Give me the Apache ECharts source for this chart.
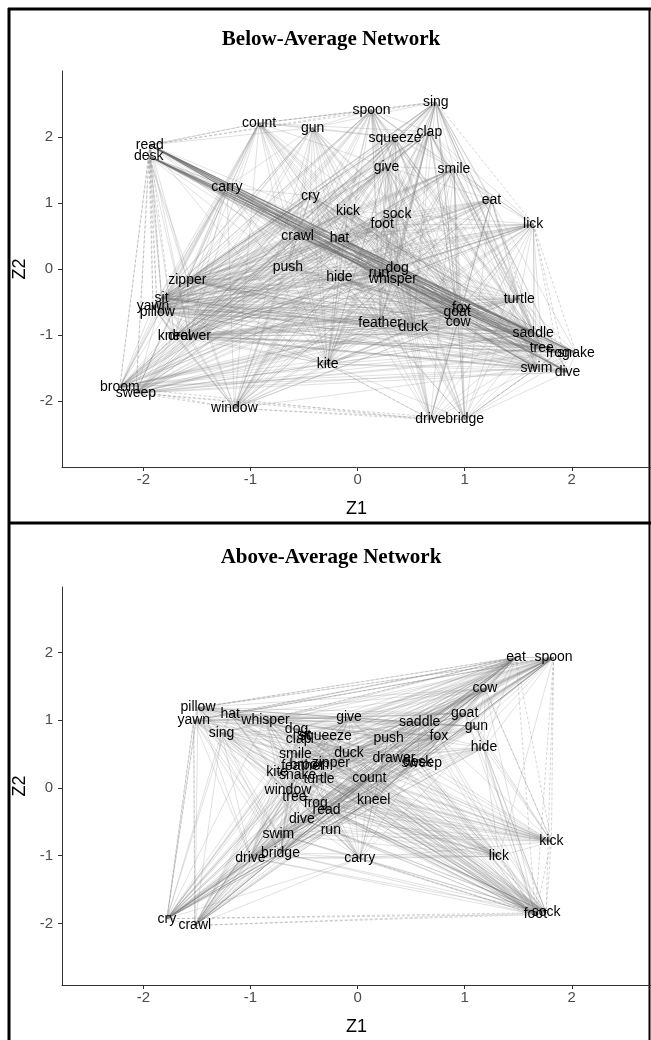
<!DOCTYPE html>
<html>
<head>
<meta charset="utf-8">
<script src="https://cdn.jsdelivr.net/npm/echarts@6/dist/echarts.min.js"></script>
<style>
  html, body { margin: 0; padding: 0; background: #fff; }
  #main { width: 651px; height: 1040px; }
</style>
</head>
<body>
<div id="main"></div>
<script>
// node words, same order for both panels
const words = ['sing', 'spoon', 'count', 'gun', 'squeeze', 'clap', 'read', 'desk', 'give', 'smile',
  'carry', 'cry', 'eat', 'kick', 'sock', 'foot', 'lick', 'crawl', 'hat', 'push',
  'dog', 'run', 'hide', 'whisper', 'zipper', 'sit', 'turtle', 'yawn', 'pillow', 'fox',
  'goat', 'feather', 'cow', 'duck', 'kneel', 'drawer', 'saddle', 'tree', 'frog', 'snake',
  'kite', 'swim', 'dive', 'broom', 'sweep', 'window', 'drive', 'bridge'];

// Below-Average Network
const belowZ1 = [0.73, 0.13, -0.92, -0.42, 0.35, 0.67, -1.94, -1.95, 0.27, 0.90,
  -1.22, -0.44, 1.25, -0.09, 0.37, 0.23, 1.64, -0.56, -0.17, -0.65,
  0.37, 0.20, -0.17, 0.33, -1.59, -1.83, 1.51, -1.91, -1.87, 0.97,
  0.93, 0.21, 0.94, 0.52, -1.71, -1.57, 1.64, 1.72, 1.87, 2.04,
  -0.28, 1.67, 1.96, -2.22, -2.07, -1.15, 0.68, 1.00];
const belowZ2 = [2.53, 2.41, 2.21, 2.14, 1.99, 2.08, 1.88, 1.71, 1.55, 1.52,
  1.24, 1.11, 1.05, 0.88, 0.83, 0.68, 0.68, 0.50, 0.47, 0.03,
  0.02, -0.06, -0.13, -0.16, -0.17, -0.44, -0.45, -0.57, -0.66, -0.59,
  -0.65, -0.82, -0.80, -0.88, -1.02, -1.02, -0.97, -1.20, -1.27, -1.27,
  -1.44, -1.50, -1.56, -1.79, -1.88, -2.11, -2.28, -2.28];

// Above-Average Network
const aboveZ1 = [-1.27, 1.83, 0.11, 1.11, -0.30, -0.55, -0.29, 0.56, -0.08, -0.58,
  0.02, -1.78, 1.48, 1.81, 1.76, 1.66, 1.32, -1.52, -1.19, 0.29,
  -0.57, -0.25, 1.18, -0.86, -0.25, -0.50, -0.36, -1.53, -1.49, 0.76,
  1.00, -0.51, 1.19, -0.08, 0.15, 0.34, 0.58, -0.59, -0.39, -0.56,
  -0.75, -0.74, -0.52, -0.45, 0.60, -0.65, -1.00, -0.72];
const aboveZ2 = [0.81, 1.93, 0.15, 0.91, 0.76, 0.72, -0.32, 0.38, 1.04, 0.50,
  -1.04, -1.93, 1.93, -0.79, -1.84, -1.87, -1.01, -2.03, 1.09, 0.74,
  0.87, -0.62, 0.60, 1.01, 0.37, 0.78, 0.13, 1.00, 1.19, 0.76,
  1.10, 0.32, 1.47, 0.51, -0.18, 0.44, 0.97, -0.13, -0.22, 0.19,
  0.24, -0.68, -0.46, 0.34, 0.37, -0.03, -1.03, -0.96];

const tickValues = [-2, -1, 0, 1, 2];

// edges, "node: neighbours"
const belowLinks = [
  'read: desk count gun carry crawl hat dog whisper run fox goat cow saddle tree frog snake dive swim turtle zipper sit drawer kite duck feather',
  'desk: carry crawl hat hide dog whisper fox goat cow saddle tree frog snake swim dive turtle zipper sit kneel drawer window push',
  'count: carry zipper sit crawl push hide dog kite spoon clap gun squeeze give hat cry feather yawn',
  'count: pillow kneel drawer duck cow goat fox saddle whisper run window broom sweep',
  'gun: cry hat push hide dog duck feather sing spoon squeeze kick crawl whisper kite carry',
  'gun: zipper sit yawn pillow kneel drawer cow goat fox saddle tree window',
  'spoon: sing squeeze clap give smile kick sock foot dog whisper run zipper sit crawl hat lick eat turtle push yawn',
  'spoon: pillow kneel drawer feather duck kite cow goat fox saddle tree swim broom sweep window',
  'sing: clap squeeze give smile eat turtle saddle dog whisper run foot sock push hat crawl zipper snake fox',
  'sing: yawn pillow sit kneel drawer feather duck kite cow goat tree swim dive frog broom sweep window',
  'squeeze: clap give smile foot sock kick hat crawl dog push zipper sit yawn pillow duck goat cow fox',
  'squeeze: kneel drawer feather kite saddle tree swim window broom',
  'clap: give smile eat lick foot sock dog run whisper crawl zipper sit kneel drawer feather duck turtle',
  'clap: yawn pillow kite cow goat fox saddle tree swim dive window broom sweep',
  'give: smile kick sock foot crawl hat push zipper sit pillow yawn kneel drawer dog whisper eat turtle',
  'give: feather duck kite cow goat fox saddle tree swim window broom sweep',
  'smile: eat lick sock foot kick crawl hat dog whisper feather duck zipper sit yawn push',
  'smile: pillow kneel drawer kite cow goat fox saddle tree swim window broom sweep',
  'carry: zipper sit kneel drawer crawl hat cry push kite window duck feather',
  'carry: yawn pillow dog whisper run hide fox goat cow saddle tree swim broom sweep',
  'cry: kick crawl hat push hide dog whisper feather duck cow goat saddle tree zipper',
  'cry: sit yawn pillow kneel drawer kite run window broom sweep',
  'eat: lick turtle sock foot dog whisper hide push crawl zipper sit feather duck fox',
  'eat: yawn pillow kneel drawer kite cow goat tree swim window broom sweep',
  'kick: sock foot hat crawl push dog whisper run hide fox goat cow saddle tree frog zipper yawn',
  'kick: sit pillow kneel drawer feather duck kite swim dive window broom sweep',
  'sock: foot lick dog run whisper hide push zipper sit pillow kneel drawer broom sweep',
  'sock: yawn feather duck kite cow goat fox saddle tree swim window',
  'foot: lick dog whisper run hide push zipper sit yawn feather duck',
  'foot: pillow kneel drawer kite cow goat fox saddle tree swim window broom sweep',
  'lick: turtle saddle tree swim dog whisper run push crawl zipper sit yawn hat hide feather duck cow goat fox kite',
  'lick: pillow kneel drawer window broom sweep',
  'crawl: hat push dog whisper run fox goat cow saddle tree frog snake swim dive zipper sit drawer kneel kite',
  'crawl: yawn pillow feather duck hide window broom sweep',
  'hat: push dog whisper run hide fox goat cow saddle tree frog snake dive swim zipper duck feather',
  'hat: sit yawn pillow kneel drawer kite window sweep',
  'push: dog hide run whisper zipper sit yawn pillow kneel drawer feather duck kite fox goat cow saddle swim tree window',
  'dog: run whisper hide fox goat cow saddle tree snake turtle zipper sit yawn duck feather',
  'dog: pillow kneel drawer kite swim window broom sweep frog dive',
  'run: whisper hide fox goat cow saddle tree frog dive zipper pillow duck feather kite',
  'run: sit yawn kneel drawer swim snake window broom sweep',
  'hide: whisper feather duck kite zipper sit yawn pillow kneel drawer fox goat cow saddle',
  'hide: tree swim dive frog snake window sweep',
  'whisper: fox goat cow saddle tree frog snake swim dive turtle duck feather zipper sit',
  'whisper: yawn pillow kneel drawer kite window broom sweep',
  'zipper: sit yawn pillow kneel drawer feather duck fox goat cow saddle tree kite turtle swim dive frog snake',
  'sit: yawn pillow kneel drawer feather duck goat cow fox saddle tree swim frog snake dive kite',
  'turtle: saddle tree frog snake swim dive fox goat cow duck feather',
  'turtle: yawn pillow sit kneel drawer kite window broom sweep',
  'yawn: pillow kneel drawer feather duck cow saddle goat fox tree swim kite',
  'pillow: kneel drawer feather duck cow goat saddle tree fox swim dive kite',
  'fox: goat cow duck feather saddle tree frog snake swim dive',
  'goat: cow duck feather saddle tree frog snake swim dive',
  'feather: duck cow kite saddle tree swim',
  'cow: duck saddle tree frog snake swim dive',
  'duck: kite saddle tree frog snake swim dive',
  'kneel: drawer feather duck cow goat saddle tree fox swim dive frog kite',
  'drawer: feather duck cow goat saddle tree swim kite fox dive frog snake',
  'kite: cow goat fox saddle tree swim dive',
  'saddle: tree frog snake swim dive',
  'tree: frog snake swim dive',
  'frog: snake swim dive',
  'snake: swim dive',
  'swim: dive',
  'broom: sweep zipper sit yawn pillow kneel drawer push hide feather duck cow goat fox saddle tree swim dive kite hat crawl',
  'sweep: zipper sit kneel drawer push feather duck cow goat saddle tree frog snake swim dive kite',
  'window: sit yawn pillow kneel drawer push hide kite feather duck cow swim zipper crawl',
  'drive: bridge hide dog whisper run feather duck cow goat fox kite turtle saddle tree swim smile eat lick sock foot kick',
  'bridge: hide dog whisper feather duck cow goat fox kite turtle saddle tree swim dive snake frog smile eat lick sock foot give'
];
const belowDashed = [
  'read: sit yawn pillow kneel broom sweep spoon sing',
  'desk: sweep yawn pillow broom',
  'count: spoon sing read',
  'lick: snake dive frog sing',
  'window: broom sweep drive bridge',
  'drive: sweep broom kite',
  'bridge: swim sweep',
  'smile: turtle',
  'eat: saddle',
  'kneel: broom'
];
const belowStrong = [
  'read: saddle tree frog snake dive swim fox cow',
  'desk: saddle tree frog snake dive goat',
  'hat: saddle tree',
  'crawl: saddle tree',
  'dog: saddle',
  'whisper: tree',
  'cry: snake'
];

const aboveLinks = [
  'pillow: yawn hat whisper sing give saddle goat cow eat spoon gun push fox dog clap squeeze smile cry crawl kite drive',
  'pillow: duck feather zipper kite snake window tree swim dive bridge',
  'yawn: hat whisper sing dog clap give saddle goat eat spoon cry crawl swim drive window duck fox',
  'yawn: smile feather kite snake tree frog dive bridge',
  'hat: whisper sing dog clap squeeze give push saddle fox goat gun cow eat spoon smile kite',
  'hat: duck feather zipper snake turtle window tree',
  'whisper: sing dog clap squeeze give push saddle fox goat gun cow hide eat spoon smile duck',
  'whisper: feather zipper kite snake turtle window tree frog',
  'sing: dog clap smile feather kite snake window tree drive bridge swim cry crawl squeeze duck zipper turtle',
  'give: squeeze push saddle fox goat gun cow eat spoon duck drawer desk smile zipper count',
  'give: kite snake turtle frog tree window',
  'eat: spoon cow goat gun saddle fox hide push drawer desk duck count kneel zipper turtle read frog run dive swim bridge drive tree window feather kite snake smile',
  'eat: dog clap squeeze give hat sing whisper',
  'spoon: cow goat gun hide fox saddle push desk drawer count kneel read run duck zipper turtle frog dive swim drive bridge carry lick tree window',
  'spoon: dog clap squeeze smile feather kite snake sing hat',
  'cow: goat gun saddle fox push hide desk drawer count kneel zipper duck turtle smile feather snake kite frog read',
  'goat: gun saddle fox push desk drawer duck count zipper turtle kneel feather frog read tree',
  'gun: saddle fox push hide desk drawer duck count kneel zipper turtle read frog',
  'hide: fox desk drawer count kneel run read kick lick sock foot duck zipper turtle frog',
  'saddle: fox push desk drawer duck squeeze clap dog zipper count kneel turtle frog read',
  'fox: push desk drawer duck count kneel zipper turtle feather smile snake frog read',
  'kick: lick carry count kneel run read desk drawer hide gun goat cow duck push fox zipper turtle frog dive tree swim',
  'kick: smile feather kite snake window dog clap squeeze',
  'lick: carry count kneel run read drawer desk duck push zipper turtle frog dive swim bridge drive tree window feather smile',
  'lick: dog clap squeeze kite snake',
  'foot: sock carry run read kneel count turtle frog tree window dive swim drive bridge duck zipper desk drawer feather snake kite smile push fox',
  'foot: dog clap squeeze give hat whisper sing gun cow goat saddle hide',
  'sock: carry run read kneel count frog tree dive swim drive bridge duck zipper desk drawer feather snake kite smile turtle',
  'sock: dog clap squeeze give whisper gun goat saddle hide push fox',
  'cry: crawl drive bridge swim dive run read frog tree window kite snake feather smile zipper turtle count kneel duck drawer desk push fox carry',
  'cry: dog clap squeeze give whisper hat sing gun cow goat saddle hide',
  'crawl: drive bridge swim dive run read frog tree window kite snake feather zipper turtle count kneel drawer desk carry',
  'crawl: dog clap squeeze smile duck give push fox saddle',
  'carry: run read frog kneel count drawer desk bridge drive swim dive duck zipper',
  'carry: window tree smile feather kite snake turtle push',
  'drive: bridge swim dive window tree frog snake kite feather smile read run desk drawer fox',
  'drive: dog clap squeeze duck zipper count kneel push',
  'bridge: swim dive window tree frog snake read run count kneel desk drawer push fox saddle',
  'bridge: dog clap squeeze smile duck zipper turtle',
  'swim: dive window tree frog read run count kneel desk',
  'dive: window tree frog read run kneel count desk drawer',
  'dog: clap squeeze smile duck feather zipper push drawer desk count',
  'clap: squeeze smile feather zipper duck push drawer desk',
  'squeeze: smile duck feather zipper push drawer desk count turtle',
  'smile: duck feather zipper kite snake turtle count drawer desk push',
  'duck: feather zipper turtle count push drawer desk kneel',
  'feather: zipper kite snake turtle count window tree',
  'zipper: turtle count kneel drawer desk push',
  'kite: snake turtle window tree frog read',
  'snake: turtle window tree frog read count',
  'turtle: count window tree frog read kneel',
  'count: kneel read frog run drawer desk push',
  'window: tree frog read',
  'tree: frog read run',
  'frog: read run kneel',
  'read: run kneel',
  'push: drawer desk count kneel',
  'drawer: desk kneel',
  'sit: clap dog squeeze duck eat spoon foot sock cry',
  'broom: feather zipper smile eat spoon foot sock crawl',
  'sweep: desk drawer fox eat spoon foot sock cry crawl'
];
const aboveDashed = [
  'pillow: spoon eat cry',
  'yawn: eat crawl cry',
  'cry: sock foot',
  'crawl: foot sock',
  'spoon: sock foot kick eat',
  'eat: foot kick',
  'kick: sock foot',
  'lick: foot',
  'cow: kick',
  'carry: foot',
  'hat: spoon',
  'whisper: eat'
];
const aboveStrong = [
  'cry: count kneel',
  'crawl: count',
  'bridge: fox',
  'drive: desk',
  'eat: read frog',
  'spoon: run',
  'cow: drawer',
  'goat: desk',
  'foot: turtle',
  'sock: frog'
];

function nodeAt(z1, z2, w) {
  const i = words.indexOf(w);
  if (i < 0) console.warn('unknown word', w);
  return [z1[i], z2[i]];
}

function buildLines(list, z1, z2) {
  const seen = {};
  const out = [];
  list.forEach(row => {
    const parts = row.split(':');
    const a = parts[0].trim();
    parts[1].trim().split(/\s+/).forEach(b => {
      const key = [a, b].sort().join('|');
      if (seen[key] || a === b) return;
      seen[key] = 1;
      out.push({ coords: [nodeAt(z1, z2, a), nodeAt(z1, z2, b)] });
    });
  });
  return out;
}

const labelFont = '"Liberation Sans", Arial, sans-serif';

function edgeSeries(idx, data, style) {
  return {
    type: 'lines',
    coordinateSystem: 'cartesian2d',
    xAxisIndex: idx,
    yAxisIndex: idx,
    silent: true,
    z: 1,
    lineStyle: style,
    data: data
  };
}

function nodeSeries(idx, z1, z2) {
  return {
    type: 'scatter',
    xAxisIndex: idx,
    yAxisIndex: idx,
    symbolSize: 0,
    z: 5,
    silent: true,
    itemStyle: { color: '#000', opacity: 1 },
    data: words.map((w, i) => [z1[i], z2[i], w]),
    label: {
      show: true,
      position: 'inside',
      formatter: p => p.value[2],
      color: '#000',
      opacity: 1,
      textBorderWidth: 0,
      fontSize: 14,
      fontFamily: labelFont
    }
  };
}

function xAxisFor(idx) {
  return {
    type: 'value', gridIndex: idx, min: -2.76, max: 2.74,
    name: 'Z1', nameLocation: 'middle', nameGap: 33,
    nameTextStyle: { fontSize: 18, color: '#000', fontFamily: labelFont },
    splitLine: { show: false },
    axisLine: { onZero: false, lineStyle: { color: '#333', width: 1 } },
    axisTick: { length: 4, lineStyle: { color: '#333' }, customValues: tickValues },
    axisLabel: { fontSize: 15, color: '#4d4d4d', margin: 5, fontFamily: labelFont, customValues: tickValues }
  };
}

function yAxisFor(idx, min, max) {
  return {
    type: 'value', gridIndex: idx, min: min, max: max,
    name: 'Z2', nameLocation: 'middle', nameGap: 30, nameRotate: 90,
    nameTextStyle: { fontSize: 18, color: '#000', fontFamily: labelFont },
    splitLine: { show: false },
    axisLine: { show: true, onZero: false, lineStyle: { color: '#333', width: 1 } },
    axisTick: { show: true, length: 4, lineStyle: { color: '#333' }, customValues: tickValues },
    axisLabel: { fontSize: 15, color: '#4d4d4d', margin: 9, fontFamily: labelFont, customValues: tickValues }
  };
}

const solidStyle = { color: '#777', width: 0.5, opacity: 0.45 };
const dashStyle = { color: '#888', width: 0.6, opacity: 0.6, type: [3, 2] };
const strongStyle = { color: '#666', width: 0.8, opacity: 0.5 };

const chart = echarts.init(document.getElementById('main'), null, { renderer: 'canvas' });

const option = {
  animation: false,
  backgroundColor: '#fff',
  grid: [
    { left: 62, right: 0, top: 71, height: 396, outerBoundsMode: 'none' },
    { left: 62, right: 0, top: 587, height: 398, outerBoundsMode: 'none' }
  ],
  xAxis: [xAxisFor(0), xAxisFor(1)],
  yAxis: [yAxisFor(0, -3, 3), yAxisFor(1, -2.91, 2.97)],
  graphic: [
    { type: 'text', x: 331, y: 40, style: { text: 'Below-Average Network', align: 'center', verticalAlign: 'middle', font: 'bold 21px "Liberation Serif", "Times New Roman", serif', fill: '#000' } },
    { type: 'text', x: 331, y: 558, style: { text: 'Above-Average Network', align: 'center', verticalAlign: 'middle', font: 'bold 21px "Liberation Serif", "Times New Roman", serif', fill: '#000' } },
    { type: 'line', shape: { x1: 9, y1: 8, x2: 9, y2: 1040 }, style: { stroke: '#000', lineWidth: 3 } },
    { type: 'line', shape: { x1: 8, y1: 9, x2: 651, y2: 9 }, style: { stroke: '#000', lineWidth: 3 } },
    { type: 'line', shape: { x1: 649.5, y1: 8, x2: 649.5, y2: 1040 }, style: { stroke: '#000', lineWidth: 2 } },
    { type: 'line', shape: { x1: 8, y1: 523, x2: 651, y2: 523 }, style: { stroke: '#000', lineWidth: 3 } }
  ],
  series: [
    edgeSeries(0, buildLines(belowLinks, belowZ1, belowZ2), solidStyle),
    edgeSeries(0, buildLines(belowDashed, belowZ1, belowZ2), dashStyle),
    edgeSeries(0, buildLines(belowStrong, belowZ1, belowZ2), strongStyle),
    nodeSeries(0, belowZ1, belowZ2),
    edgeSeries(1, buildLines(aboveLinks, aboveZ1, aboveZ2), solidStyle),
    edgeSeries(1, buildLines(aboveDashed, aboveZ1, aboveZ2), dashStyle),
    edgeSeries(1, buildLines(aboveStrong, aboveZ1, aboveZ2), strongStyle),
    nodeSeries(1, aboveZ1, aboveZ2)
  ]
};

chart.setOption(option);
</script>
</body>
</html>
